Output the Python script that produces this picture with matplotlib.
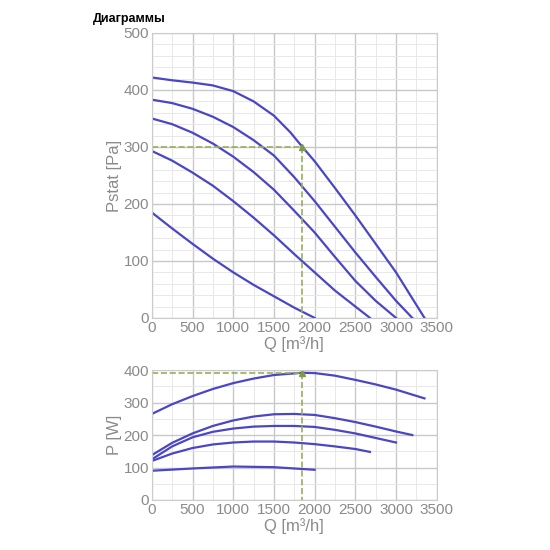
import matplotlib
matplotlib.use('Agg')
import matplotlib.pyplot as plt
from matplotlib.ticker import MultipleLocator

plt.rcParams['font.family'] = ['Liberation Sans', 'DejaVu Sans']

# static pressure curves, Q [m3/h] -> Pstat [Pa]
Q1 = [0, 250, 500, 750, 1000, 1250, 1500, 1700, 1850, 2000, 2250, 2500, 2750, 3000, 3350]
P1 = [422, 417, 413, 408, 398, 380, 355, 326, 300, 275, 228, 180, 130, 80, 0]
Q2 = [0, 250, 500, 750, 1000, 1250, 1500, 1750, 2000, 2250, 2500, 2750, 3000, 3200]
P2 = [383, 377, 367, 353, 335, 312, 285, 247, 205, 160, 115, 72, 30, 0]
Q3 = [0, 250, 500, 750, 1000, 1250, 1500, 1750, 2000, 2250, 2500, 2750, 3000]
P3 = [350, 340, 325, 306, 283, 256, 225, 188, 150, 107, 65, 30, 0]
Q4 = [0, 250, 500, 750, 1000, 1250, 1500, 1750, 2000, 2250, 2500, 2680]
P4 = [293, 276, 255, 232, 205, 176, 145, 112, 80, 48, 20, 0]
Q5 = [0, 250, 500, 750, 1000, 1250, 1500, 1750, 2000]
P5 = [185, 157, 130, 104, 80, 58, 38, 18, 0]

# power curves, Q [m3/h] -> P [W]
W1Q = [0, 250, 500, 750, 1000, 1250, 1500, 1850, 2000, 2250, 2500, 2750, 3000, 3350]
W1 = [265, 295, 320, 342, 360, 374, 385, 392, 391, 383, 370, 356, 340, 313]
W2Q = [0, 250, 500, 750, 1000, 1250, 1500, 1750, 2000, 2250, 2500, 2750, 3000, 3200]
W2 = [138, 176, 205, 228, 245, 257, 264, 265, 262, 252, 240, 226, 211, 200]
W3Q = [0, 250, 500, 750, 1000, 1250, 1500, 1750, 2000, 2250, 2500, 2750, 3000]
W3 = [125, 165, 193, 210, 220, 226, 228, 228, 225, 216, 205, 191, 177]
W4Q = [0, 250, 500, 750, 1000, 1250, 1500, 1750, 2000, 2250, 2500, 2680]
W4 = [120, 143, 160, 171, 177, 180, 180, 177, 172, 165, 157, 148]
W5Q = [0, 500, 1000, 1500, 2000]
W5 = [90, 97, 103, 101, 93]

OP_Q, OP_P, OP_W = 1850, 300, 392

LINE = '#4a46c4'
DASH = '#9aae5c'
GREY = '#8a8a8a'

fig = plt.figure(figsize=(5.5, 5.5), dpi=100)
fig.text(0.168, 0.965, 'Диаграммы', fontsize=9, fontweight='bold', va='center')
ax1 = fig.add_axes([0.276, 0.422, 0.518, 0.518])
ax2 = fig.add_axes([0.276, 0.091, 0.518, 0.236])


def style(a, ymax, ymaj, ymin, ylabel):
  a.set_xlim(0, 3500); a.set_ylim(0, ymax)
  a.xaxis.set_major_locator(MultipleLocator(500))
  a.xaxis.set_minor_locator(MultipleLocator(250))
  a.yaxis.set_major_locator(MultipleLocator(ymaj))
  a.yaxis.set_minor_locator(MultipleLocator(ymin))
  a.grid(which='major', color='#c8c8c8', lw=1)
  a.grid(which='minor', color='#e8e8e8', lw=0.7)
  a.set_axisbelow(True)
  for s in a.spines.values():
    s.set_color('#cccccc')
  a.tick_params(which='both', length=0, colors=GREY, labelsize=11, pad=2)
  a.set_xlabel('Q [m³/h]', color=GREY, fontsize=12, labelpad=1)
  a.set_ylabel(ylabel, color=GREY, fontsize=12, labelpad=1)


style(ax1, 500, 100, 20, 'Pstat [Pa]')
for q, p in [(Q1, P1), (Q2, P2), (Q3, P3), (Q4, P4), (Q5, P5)]:
  ax1.plot(q, p, color=LINE, lw=1.6)
ax1.plot([0, OP_Q, OP_Q], [OP_P, OP_P, 0], color=DASH, ls='--', lw=1.2)
ax1.plot(OP_Q, OP_P, '^', color='#7e9a4a', ms=5)

style(ax2, 400, 100, 50, 'P [W]')
for q, p in [(W1Q, W1), (W2Q, W2), (W3Q, W3), (W4Q, W4), (W5Q, W5)]:
  ax2.plot(q, p, color=LINE, lw=1.6)
ax2.plot([0, OP_Q, OP_Q], [OP_W, OP_W, 0], color=DASH, ls='--', lw=1.2)
ax2.plot(OP_Q, OP_W, '^', color='#7e9a4a', ms=5, clip_on=False)

fig.savefig('out.png', dpi=100)
